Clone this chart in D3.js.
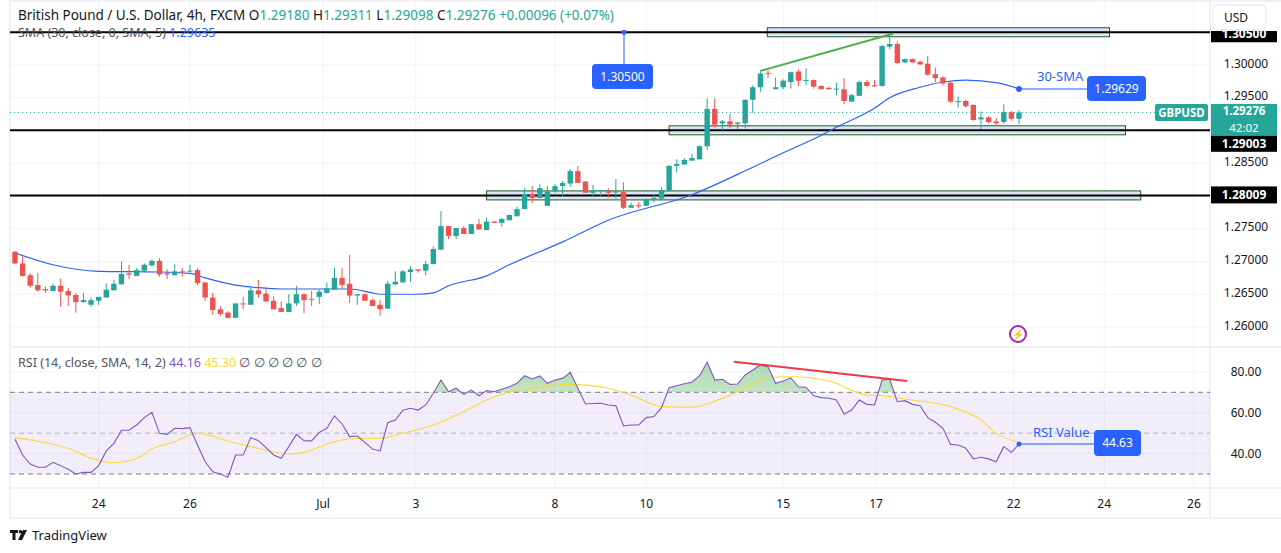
<!DOCTYPE html>
<html><head><meta charset="utf-8">
<script src="https://cdn.jsdelivr.net/npm/d3@7"></script>
<style>body{margin:0;background:#fff;font-family:"Noto Sans",Roboto,sans-serif}svg{display:block}</style>
</head><body><svg id="c" width="1281" height="553"></svg>
<script>
const opens=[1.2715,1.2697,1.2679,1.2664,1.2658,1.2655,1.2663,1.2655,1.2649,1.2638,1.2634,1.2640,1.2645,1.2656,1.2665,1.2682,1.2678,1.2686,1.2694,1.2701,1.2682,1.2679,1.2685,1.2685,1.2687,1.2668,1.2645,1.2627,1.2622,1.2614,1.2636,1.2634,1.2656,1.2651,1.2640,1.2629,1.2623,1.2636,1.2650,1.2643,1.2646,1.2652,1.2657,1.2675,1.2666,1.2648,1.2650,1.2641,1.2634,1.2628,1.2665,1.2668,1.2684,1.2688,1.2686,1.2696,1.2718,1.2754,1.2739,1.2751,1.2742,1.2757,1.2748,1.2761,1.2759,1.2763,1.2769,1.2780,1.2803,1.2797,1.2785,1.2807,1.2815,1.2819,1.2838,1.2822,1.2805,1.2808,1.2808,1.2806,1.2806,1.2782,1.2786,1.2785,1.2796,1.2796,1.2808,1.2846,1.2848,1.2854,1.2856,1.2876,1.2933,1.2911,1.2914,1.2910,1.2911,1.2947,1.2966,1.2988,1.2963,1.2966,1.2974,1.2990,1.2976,1.2977,1.2968,1.2965,1.2963,1.2963,1.2944,1.2953,1.2974,1.2969,1.2968,1.3028,1.3032,1.3004,1.3009,1.3005,1.3002,1.2986,1.2981,1.2973,1.2944,1.2945,1.2939,1.2917,1.2920,1.2914,1.2913,1.2928,1.29180];
const highs=[1.2716,1.2708,1.2682,1.2682,1.2662,1.2666,1.2674,1.2660,1.2652,1.2652,1.2645,1.2646,1.2667,1.2672,1.2700,1.2695,1.2690,1.2697,1.2703,1.2705,1.2688,1.2696,1.2690,1.2695,1.2690,1.2668,1.2652,1.2632,1.2624,1.2636,1.2646,1.2662,1.2672,1.2660,1.2647,1.2639,1.2650,1.2663,1.2651,1.2655,1.2657,1.2668,1.2690,1.2690,1.2710,1.2651,1.2651,1.2643,1.2641,1.2670,1.2685,1.2687,1.2693,1.2688,1.2701,1.2723,1.2777,1.2754,1.2751,1.2754,1.2757,1.2765,1.2767,1.2762,1.2766,1.2772,1.2784,1.2812,1.2815,1.2818,1.2815,1.2818,1.2823,1.2841,1.2846,1.2823,1.2817,1.2809,1.2812,1.2826,1.2821,1.2790,1.2791,1.2797,1.2803,1.2813,1.2847,1.2856,1.2858,1.2864,1.2877,1.2949,1.2949,1.2916,1.2925,1.2913,1.2947,1.2969,1.2991,1.2992,1.2981,1.2978,1.2990,1.2993,1.2995,1.2978,1.2969,1.2967,1.2973,1.2980,1.2956,1.2976,1.2977,1.2977,1.3031,1.3048,1.3036,1.3010,1.3010,1.3007,1.3014,1.2996,1.2982,1.2974,1.2952,1.2947,1.2940,1.2929,1.2922,1.2919,1.2940,1.2930,1.29311];
const lows=[1.2696,1.2677,1.2660,1.2654,1.2652,1.2655,1.2631,1.2632,1.2622,1.2637,1.2631,1.2634,1.2645,1.2656,1.2665,1.2673,1.2678,1.2684,1.2692,1.2677,1.2673,1.2679,1.2677,1.2684,1.2664,1.2640,1.2619,1.2617,1.2613,1.2614,1.2627,1.2634,1.2645,1.2639,1.2627,1.2623,1.2623,1.2632,1.2621,1.2632,1.2635,1.2651,1.2657,1.2659,1.2637,1.2634,1.2640,1.2632,1.2617,1.2628,1.2664,1.2668,1.2669,1.2683,1.2679,1.2696,1.2718,1.2734,1.2734,1.2742,1.2742,1.2749,1.2748,1.2759,1.2753,1.2763,1.2769,1.2780,1.2789,1.2797,1.2785,1.2805,1.2800,1.2814,1.2820,1.2805,1.2800,1.2800,1.2797,1.2796,1.2780,1.2782,1.2781,1.2785,1.2790,1.2796,1.2807,1.2836,1.2848,1.2854,1.2856,1.2870,1.2904,1.2900,1.2904,1.2902,1.2903,1.2927,1.2959,1.2980,1.2963,1.2963,1.2964,1.2968,1.2969,1.2964,1.2963,1.2962,1.2954,1.2940,1.2944,1.2953,1.2967,1.2967,1.2967,1.3024,1.3001,1.3003,1.3004,1.3000,1.2984,1.2974,1.2969,1.2942,1.2935,1.2935,1.2915,1.2902,1.2911,1.2907,1.2910,1.2915,1.29098];
const closes=[1.2697,1.2678,1.2663,1.2656,1.2656,1.2663,1.2654,1.2648,1.2638,1.2641,1.2641,1.2646,1.2657,1.2666,1.2681,1.2680,1.2687,1.2695,1.2701,1.2680,1.2680,1.2685,1.2684,1.2686,1.2667,1.2645,1.2626,1.2620,1.2614,1.2636,1.2635,1.2656,1.2650,1.2639,1.2627,1.2623,1.2636,1.2650,1.2641,1.2642,1.2654,1.2659,1.2675,1.2664,1.2648,1.2650,1.2640,1.2632,1.2627,1.2666,1.2669,1.2685,1.2688,1.2686,1.2696,1.2719,1.2754,1.2739,1.2751,1.2742,1.2757,1.2749,1.2761,1.2759,1.2765,1.2771,1.2780,1.2803,1.2797,1.2812,1.2807,1.2815,1.2820,1.2838,1.2820,1.2805,1.2808,1.2809,1.2805,1.2807,1.2782,1.2786,1.2785,1.2795,1.2797,1.2809,1.2846,1.2849,1.2855,1.2858,1.2876,1.2933,1.2909,1.2914,1.2909,1.2912,1.2947,1.2966,1.2987,1.2987,1.2966,1.2976,1.2989,1.2976,1.2977,1.2967,1.2963,1.2963,1.2964,1.2945,1.2954,1.2974,1.2968,1.2968,1.3029,1.3032,1.3003,1.3009,1.3004,1.3001,1.2985,1.2980,1.2972,1.2944,1.2945,1.2937,1.2916,1.2920,1.2913,1.2911,1.2928,1.2918,1.29276];
const smaIdx=[0,5,11,19,23,25,29,32,35,44,47,48,53,55,57,62,65,72,78,89,97,101,105,108,113,115,119,122,125,129,132];
const smaVals=[1.2713,1.2695,1.2685,1.2684,1.2682,1.2675,1.2664,1.2660,1.2658,1.2658,1.2652,1.2650,1.2650,1.2652,1.2663,1.2678,1.2695,1.2730,1.2763,1.2802,1.2844,1.2866,1.2887,1.2905,1.2934,1.2950,1.2966,1.2974,1.2977,1.2973,1.29635];
const rsiVals=[47,39.3,34.9,33.3,33.3,35.7,34.1,32.3,30,30.8,30.8,34.1,41.3,45,51.4,51.4,54,57.6,60.2,49.9,49.4,52.4,52.2,52.7,44.2,36,31.1,30,28.4,39.3,39.3,47.8,46.3,42.9,39.3,37.7,43.4,49.4,46.3,46.2,50.4,52.4,58.5,54.5,48.3,48.6,45.5,42.2,41.3,55.1,56.4,61.2,62.2,61.3,63.8,69.5,76,70.3,72,69,71.1,68.3,70.8,70.3,71.5,72.7,74.4,78.1,76.5,78,74.4,76,76.8,79.8,72,64.3,64.5,64.6,63.8,63.4,53.5,54,54,57.6,58.1,62.5,72.3,73.2,74.2,74.9,78.1,84.7,76,76.4,73.9,74.1,78.5,80.9,83.4,82.5,74.4,75.5,77.1,72.7,72.5,68.3,67.4,67.1,66.2,59.4,61.3,66.2,64.1,63.8,76,76.4,65.4,65.9,64.1,63.4,57.6,55.3,52.4,44.5,44.2,42.6,37.4,38.2,37.4,36,43.4,40.6,44.63];
const maIdx=[0,2,7,10,13,16,18,21,24,28,31,36,38,42,45,48,51,55,59,62,65,69,73,78,81,85,89,93,96,99,102,107,112,114,118,123,127,129,132];
const maVals=[47.8,46.7,42.6,37.7,35.5,37.7,42.2,45.8,50,46.2,43.4,39.8,40.6,45.8,47.5,47.5,50,54,60.5,66.2,70.3,72.4,73.9,72,68.7,63,62.7,67.1,72,77.3,77.6,75.5,68.7,68.3,66.2,63,56.4,50,45.3];
const dayTickIdx=[11,23,40.5,52.7,71,83,101,113.2,131.3,143.2,155];
const dayTickLabels=["24","26","Jul","3","8","10","15","17","22","24","26"];
const priceTicks=[1.26,1.265,1.27,1.275,1.28,1.285,1.29,1.295,1.30,1.305];
const rsiTicks=[40,60,80];
const levels=[1.305,1.29003,1.28009];

const svg=d3.select("#c");
const G="#26a69a",R="#ef5350",B="#2962ff",GRID="#f0f3fa",TXT="#131722";
const x=d3.scaleLinear().domain([0,132]).range([15,1019]);
const y=d3.scaleLinear().domain([1.26,1.30]).range([327,65]);
const yr=d3.scaleLinear().domain([30,70]).range([474,392.3]);
const W=1210;
const last=closes.length-1;

svg.append("g").selectAll("line").data(dayTickIdx).join("line").attr("x1",d=>x(d)).attr("x2",d=>x(d)).attr("y1",0).attr("y2",488).attr("stroke",GRID);
svg.append("g").selectAll("line").data(priceTicks).join("line").attr("x1",10).attr("x2",W).attr("y1",d=>y(d)).attr("y2",d=>y(d)).attr("stroke",GRID);
svg.append("g").selectAll("line").data(rsiTicks).join("line").attr("x1",10).attr("x2",W).attr("y1",d=>yr(d)).attr("y2",d=>yr(d)).attr("stroke",GRID);
svg.append("line").attr("x1",W).attr("x2",W).attr("y1",0).attr("y2",518).attr("stroke","#e0e3eb");
svg.append("line").attr("x1",10).attr("x2",10).attr("y1",0).attr("y2",518).attr("stroke","#e0e3eb");
svg.append("line").attr("x1",10).attr("x2",1281).attr("y1",347).attr("y2",347).attr("stroke","#e0e3eb");
svg.append("line").attr("x1",10).attr("x2",1281).attr("y1",488).attr("y2",488).attr("stroke","#e0e3eb");
svg.append("line").attr("x1",10).attr("x2",1281).attr("y1",518).attr("y2",518).attr("stroke","#e0e3eb");
svg.append("line").attr("x1",10).attr("x2",1281).attr("y1",1).attr("y2",1).attr("stroke","#e0e3eb");

const boxes=[[98.9,143.9,1.3050],[86,146,1.29003],[62,148,1.28009]];
svg.append("g").selectAll("rect").data(boxes).join("rect").attr("x",d=>x(d[0])).attr("width",d=>x(d[1])-x(d[0]))
 .attr("y",d=>y(d[2])-4.5).attr("height",9).attr("fill","#dde6f7").attr("stroke","#1b5e20").attr("stroke-width",1);
svg.append("g").selectAll("line").data(levels).join("line").attr("x1",10).attr("x2",W).attr("y1",d=>y(d)).attr("y2",d=>y(d)).attr("stroke","#000").attr("stroke-width",2);
svg.append("line").attr("x1",10).attr("x2",1155).attr("y1",y(closes[last])).attr("y2",y(closes[last])).attr("stroke",G).attr("stroke-dasharray","1,3");

svg.append("path").datum(smaIdx.map((d,i)=>[d,smaVals[i]])).attr("fill","none").attr("stroke",B).attr("stroke-width",1.2)
 .attr("d",d3.line().x(d=>x(d[0])).y(d=>y(d[1])).curve(d3.curveMonotoneX));

const idx=d3.range(closes.length);
const cg=svg.append("g");
cg.selectAll("line").data(idx).join("line").attr("x1",i=>x(i)).attr("x2",i=>x(i)).attr("y1",i=>y(highs[i])).attr("y2",i=>y(lows[i]))
 .attr("stroke",i=>closes[i]>=opens[i]?G:R);
cg.selectAll("rect").data(idx).join("rect").attr("x",i=>x(i)-2.7).attr("width",5.4)
 .attr("y",i=>y(Math.max(opens[i],closes[i]))).attr("height",i=>Math.max(1,Math.abs(y(opens[i])-y(closes[i]))))
 .attr("fill",i=>closes[i]>=opens[i]?G:R);

svg.append("line").attr("x1",x(98)).attr("y1",y(1.2991)).attr("x2",x(115.5)).attr("y2",y(1.3048)).attr("stroke","#4caf50").attr("stroke-width",2);

svg.append("line").attr("x1",624).attr("x2",624).attr("y1",y(1.305)).attr("y2",64).attr("stroke",B);
svg.append("circle").attr("cx",624).attr("cy",y(1.305)).attr("r",2.5).attr("fill",B);
svg.append("rect").attr("x",592).attr("y",64).attr("width",61).attr("height",25).attr("rx",4).attr("fill",B);
svg.append("text").attr("x",622.5).attr("y",81).attr("text-anchor","middle").attr("fill","#fff").attr("font-size",12).text("1.30500");
const sy=y(smaVals[smaVals.length-1]);
svg.append("line").attr("x1",x(last)).attr("x2",1088).attr("y1",sy).attr("y2",sy).attr("stroke",B).attr("stroke-width",1.5).attr("opacity",0.7);
svg.append("circle").attr("cx",x(last)).attr("cy",sy).attr("r",3).attr("fill",B);
svg.append("text").attr("x",1037).attr("y",81).attr("fill",B).attr("font-size",13).text("30-SMA");
svg.append("rect").attr("x",1087).attr("y",76).attr("width",59).attr("height",25).attr("rx",4).attr("fill",B);
svg.append("text").attr("x",1116.5).attr("y",93).attr("text-anchor","middle").attr("fill","#fff").attr("font-size",12).text("1.29629");
svg.append("rect").attr("x",1155).attr("y",104).attr("width",53).attr("height",17).attr("rx",2).attr("fill",G);
svg.append("text").attr("x",1181.5).attr("y",117).attr("text-anchor","middle").attr("fill","#fff").attr("font-size",11.5).attr("font-weight","bold").text("GBPUSD");

svg.append("circle").attr("cx",1018).attr("cy",334).attr("r",8).attr("fill","none").attr("stroke","#9c27b0").attr("stroke-width",2);
svg.append("text").attr("x",1018).attr("y",338).attr("text-anchor","middle").attr("fill","#e91e63").attr("font-size",10).text("⚡");

svg.append("rect").attr("x",10).attr("width",W-10).attr("y",yr(70)).attr("height",yr(30)-yr(70)).attr("fill","#7e57c2").attr("opacity",0.1);
svg.append("g").selectAll("line").data([70,50,30]).join("line").attr("x1",10).attr("x2",W).attr("y1",d=>yr(d)).attr("y2",d=>yr(d))
 .attr("stroke",d=>d===50?"#b2b5be":"#787b86").attr("stroke-dasharray","5,4");
const rsiPts=rsiVals.map((v,i)=>[i,v]);
const defs=svg.append("defs");
const gr=defs.append("linearGradient").attr("id","og").attr("x1",0).attr("x2",0).attr("y1",0).attr("y2",1);
gr.append("stop").attr("offset","0%").attr("stop-color","#4caf50").attr("stop-opacity",0.45);
gr.append("stop").attr("offset","100%").attr("stop-color","#4caf50").attr("stop-opacity",0.03);
defs.append("clipPath").attr("id","above").append("rect").attr("x",0).attr("y",0).attr("width",1281).attr("height",yr(70));
defs.append("clipPath").attr("id","toplab").append("rect").attr("x",1211).attr("y",31).attr("width",70).attr("height",12);
svg.append("path").datum(rsiPts).attr("clip-path","url(#above)").attr("fill","url(#og)")
 .attr("d",d3.area().x(d=>x(d[0])).y0(yr(70)).y1(d=>yr(d[1])));
svg.append("path").datum(maIdx.map((d,i)=>[d,maVals[i]])).attr("fill","none").attr("stroke","#fdd835").attr("stroke-width",1.1)
 .attr("d",d3.line().x(d=>x(d[0])).y(d=>yr(d[1])).curve(d3.curveMonotoneX));
svg.append("path").datum(rsiPts).attr("fill","none").attr("stroke","#7e57c2").attr("stroke-width",1.1)
 .attr("d",d3.line().x(d=>x(d[0])).y(d=>yr(d[1])));
svg.append("line").attr("x1",x(94.5)).attr("y1",yr(85)).attr("x2",x(117.3)).attr("y2",yr(75.5)).attr("stroke","#f23645").attr("stroke-width",2);
const ry=yr(rsiVals[rsiVals.length-1]);
svg.append("line").attr("x1",x(rsiVals.length-1)).attr("x2",1095).attr("y1",ry).attr("y2",ry).attr("stroke",B).attr("stroke-width",1.5).attr("opacity",0.7);
svg.append("circle").attr("cx",x(rsiVals.length-1)).attr("cy",ry).attr("r",2.5).attr("fill",B);
svg.append("text").attr("x",1033).attr("y",437).attr("fill",B).attr("font-size",13).text("RSI Value");
svg.append("rect").attr("x",1094).attr("y",430).attr("width",47).attr("height",26).attr("rx",4).attr("fill",B);
svg.append("text").attr("x",1117.5).attr("y",447).attr("text-anchor","middle").attr("fill","#fff").attr("font-size",12).text("44.63");

const ax=svg.append("g").attr("font-size",12).attr("fill",TXT);
ax.selectAll("text.p").data(priceTicks.filter(d=>d<1.304&&Math.abs(d-1.29)>0.001&&Math.abs(d-1.28)>0.001)).join("text").attr("x",1246).attr("y",d=>y(d)+2.5).attr("text-anchor","middle").text(d=>d.toFixed(5));
ax.selectAll("text.r").data(rsiTicks).join("text").attr("x",1246).attr("y",d=>yr(d)+4).attr("text-anchor","middle").text(d=>d.toFixed(2));
const lab=(v,bg,dy,extra,clip)=>{const yy=y(v)+dy;const h=extra?32:17;
 const g=svg.append("g");if(clip)g.attr("clip-path","url(#toplab)");
 g.append("rect").attr("x",1211).attr("y",yy-9).attr("width",66).attr("height",h).attr("fill",bg);
 g.append("text").attr("x",1244).attr("y",yy+(extra?2.5:4)).attr("text-anchor","middle").attr("fill","#fff").attr("font-size",extra?11.5:12).attr("font-weight","bold").text(v.toFixed(5));
 if(extra)g.append("text").attr("x",1244).attr("y",yy+19).attr("text-anchor","middle").attr("fill","#fff").attr("font-size",11.5).text(extra);};
lab(levels[0],"#000",2,null,true);lab(levels[1],"#000",13.5);lab(levels[2],"#000",0);lab(closes[last],G,0.5,"42:02");
svg.append("rect").attr("x",1213).attr("y",5).attr("width",53).attr("height",25).attr("rx",4).attr("fill","#fff").attr("stroke","#e0e3eb");
svg.append("text").attr("x",1224).attr("y",22).attr("fill",TXT).attr("font-size",12).text("USD");

svg.append("g").selectAll("text").data(dayTickIdx).join("text").attr("x",d=>x(d)).attr("y",508).attr("text-anchor","middle")
 .attr("font-size",12).attr("fill",TXT).text((d,i)=>dayTickLabels[i]);

const h1=svg.append("text").attr("x",18).attr("y",20).attr("font-size",13.5).attr("fill",TXT);
h1.append("tspan").text("British Pound / U.S. Dollar, 4h, FXCM  O");
h1.append("tspan").attr("fill",G).text("1.29180");h1.append("tspan").text("  H");
h1.append("tspan").attr("fill",G).text("1.29311");h1.append("tspan").text("  L");
h1.append("tspan").attr("fill",G).text("1.29098");h1.append("tspan").text("  C");
h1.append("tspan").attr("fill",G).text("1.29276 +0.00096 (+0.07%)");
const h2=svg.append("text").attr("x",18).attr("y",37).attr("font-size",12.5).attr("fill","#50535e");
h2.append("tspan").text("SMA (30, close, 0, SMA, 5)  ");h2.append("tspan").attr("fill",B).text("1.29635");
const h3=svg.append("text").attr("x",18).attr("y",367).attr("font-size",12.5).attr("fill","#50535e");
h3.append("tspan").text("RSI (14, close, SMA, 14, 2)  ");h3.append("tspan").attr("fill","#7e57c2").text("44.16  ");
h3.append("tspan").attr("fill","#fdd835").text("45.30  ");h3.append("tspan").text("∅  ∅  ∅  ∅  ∅  ∅");
const lg=svg.append("g").attr("fill",TXT);
lg.append("path").attr("d","M10,530h8v3h-2.5v7h-3v-7h-2.5z");
lg.append("circle").attr("cx",20.5).attr("cy",531.8).attr("r",1.8);
lg.append("path").attr("d","M23,530h4l-5,10h-4z");
svg.append("text").attr("x",32).attr("y",540).attr("font-size",13).attr("fill",TXT).text("TradingView");
</script></body></html>
